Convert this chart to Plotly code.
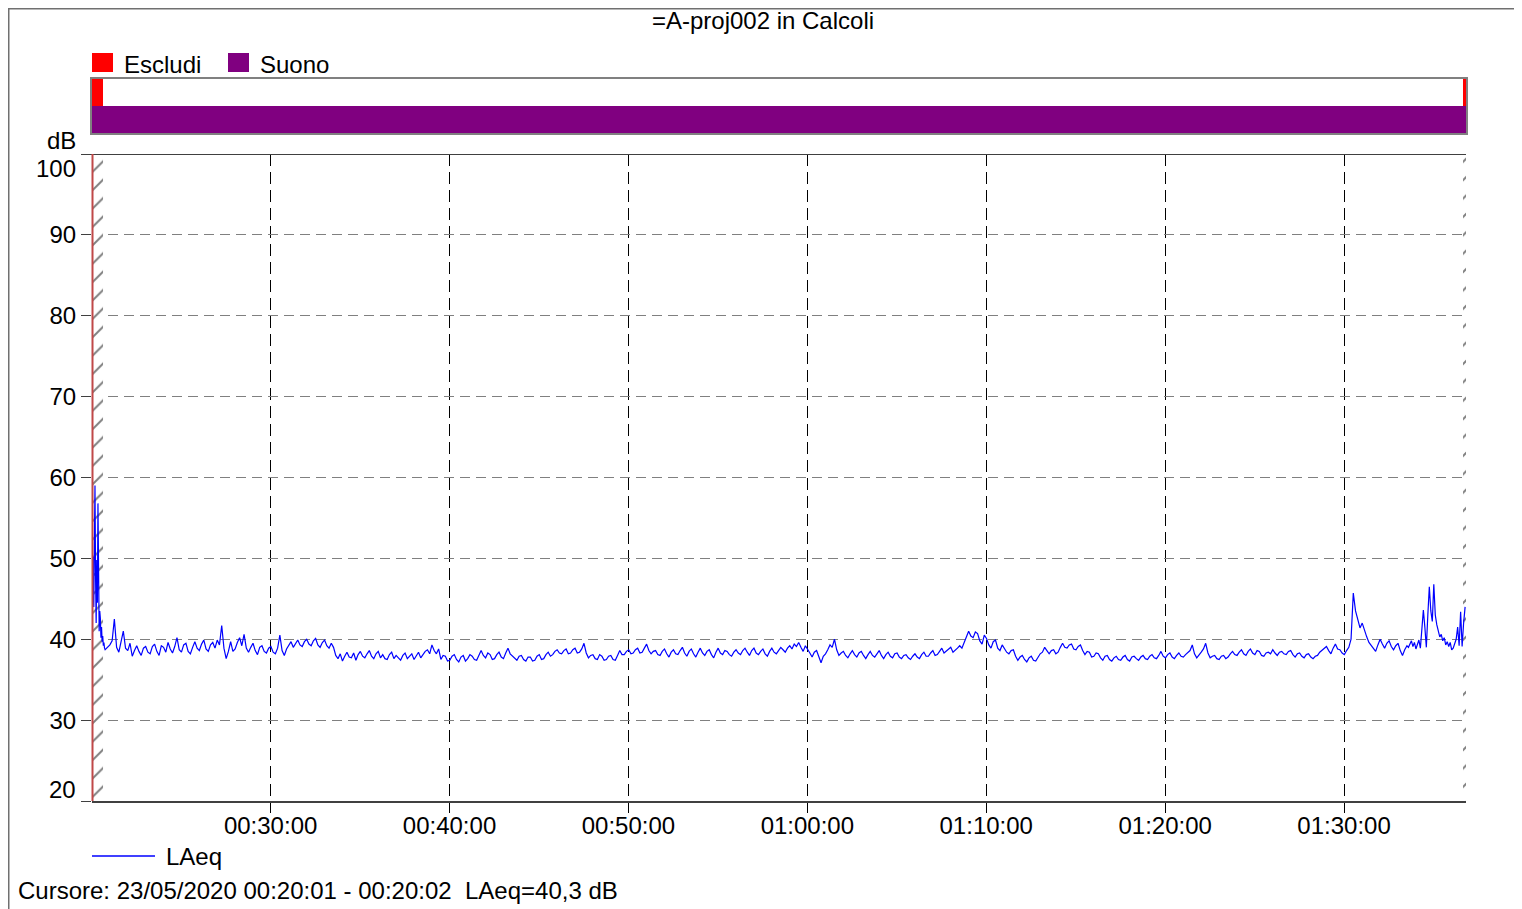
import pandas as pd
import plotly.graph_objects as go

# ---------------- data ----------------
START = "2020-05-23 00:20:01"
TOTAL_S = 4608

head_step_s = 2
head_laeq = [40.3, 45.5, 50.2, 44.0, 52.5, 59.0, 47.5, 42.0, 49.8, 44.5, 56.8, 46.0,
             41.0, 43.5, 42.6, 40.2, 41.5, 39.7, 40.4, 39.2, 39.6, 38.9, 38.7]

# samples every 15 s starting at 60 s
main_start_s = 60
main_step_s = 15
main_laeq = [
    39.3, 42.5, 38.4, 41.0, 38.6, 37.9, 39.2, 38.0, 39.1, 38.2,
    39.4, 38.0, 39.0, 39.6, 38.3, 40.2, 38.4, 39.5, 38.2, 39.7,
    38.6, 39.9, 38.5, 39.6, 39.9, 41.7, 37.6, 39.7, 38.8, 40.2,
    40.6, 38.4, 39.5, 38.1, 39.2, 38.3, 39.1, 38.2, 40.5, 38.0,
    39.3, 39.0, 39.9, 39.1, 40.0, 39.2, 40.1, 39.0, 39.9, 38.9,
    39.0, 37.6, 37.3, 38.4, 37.7, 37.4, 38.5, 37.7, 38.6, 37.6,
    38.5, 38.1, 37.5, 38.4, 38.0, 37.4, 38.3, 37.9, 37.5, 38.4,
    38.1, 38.7, 39.3, 38.2, 37.5, 37.9, 37.4, 38.1, 37.2, 38.0,
    37.6, 37.9, 37.4, 38.6, 37.7, 38.1, 37.6, 38.4, 37.6, 38.9,
    37.9, 37.4, 38.0, 37.3, 37.8, 37.4, 38.1, 37.6, 38.4, 38.1,
    38.7, 38.2, 38.8, 38.3, 38.9, 38.4, 39.5, 37.7, 38.1, 37.5,
    37.9, 37.5, 38.0, 37.4, 38.6, 38.1, 38.7, 38.3, 38.9, 38.4,
    39.4, 38.2, 38.6, 38.0, 38.8, 37.8, 38.7, 38.1, 39.0, 37.9,
    38.8, 37.8, 38.9, 38.0, 38.7, 37.7, 38.9, 38.1, 38.5, 37.9,
    38.7, 38.1, 38.9, 38.0, 38.9, 38.1, 38.8, 37.9, 38.9, 38.2,
    39.0, 38.4, 39.2, 39.4, 39.6, 38.5, 38.8, 37.8, 38.6, 37.1,
    38.2, 39.3, 40.0, 38.0, 38.5, 37.7, 38.6, 37.8, 38.5, 37.6,
    38.5, 37.8, 38.6, 37.6, 38.4, 37.7, 38.3, 37.6, 38.1, 37.5,
    38.2, 37.6, 38.4, 37.9, 38.6, 38.1, 38.9, 38.5, 39.0, 38.6,
    39.2, 39.6, 41.0, 40.2, 40.7, 39.4, 40.1, 38.9, 39.9, 38.6,
    38.9, 38.2, 38.7, 37.4, 38.0, 37.2, 37.9, 37.3, 38.2, 39.0,
    38.2, 38.7, 38.4, 39.5, 38.9, 39.4, 38.7, 39.3, 38.1, 38.4,
    37.9, 38.2, 37.4, 38.0, 37.3, 37.9, 37.4, 38.0, 37.3, 37.9,
    37.4, 38.0, 37.5, 38.1, 37.6, 38.5, 37.7, 38.3, 37.6, 38.3,
    37.8, 38.3, 39.3, 37.7, 38.4, 39.5, 37.7, 38.0, 37.5, 38.0,
    37.8, 38.5, 38.0, 38.7, 38.0, 38.8, 38.1, 38.5, 37.9, 38.4,
    38.7, 38.0, 38.5, 38.1, 38.6, 37.8, 38.3, 37.7, 38.2, 37.6,
    38.0, 38.6, 39.1, 38.2, 39.4, 38.7, 38.1, 39.0, 45.7, 42.6,
    42.0, 40.3, 39.2, 38.5, 40.0, 38.9, 39.8, 38.7, 39.5, 38.0,
]

# in-between samples, every 15 s starting at 67.5 s
mid_start_s = 67.5
mid_step_s = 15
mid_laeq = [
    39.8, 39.0, 39.6, 38.9, 39.5, 38.6, 38.5, 38.9, 38.4, 39.1,
    38.5, 39.2, 38.4, 38.8, 39.1, 38.7, 39.3, 38.5, 39.0, 38.9,
    39.4, 38.8, 39.3, 38.9, 39.3, 38.9, 38.5, 38.5, 39.6, 39.2,
    38.9, 39.0, 38.6, 39.0, 38.5, 38.9, 38.4, 38.9, 38.6, 38.8,
    39.7, 39.5, 39.3, 39.7, 39.4, 39.8, 39.3, 39.6, 39.2, 39.5,
    38.0, 38.2, 37.9, 37.8, 38.3, 38.1, 37.9, 38.2, 37.9, 38.2,
    37.7, 37.6, 38.1, 37.6, 37.7, 38.0, 37.6, 38.2, 38.0, 37.7,
    38.5, 38.2, 38.6, 38.8, 38.0, 37.3, 37.9, 37.5, 37.8, 37.3,
    38.1, 37.5, 38.0, 38.0, 38.3, 37.5, 38.1, 37.8, 38.3, 38.2,
    37.6, 37.9, 37.5, 37.8, 37.3, 37.9, 37.5, 38.1, 37.9, 38.5,
    38.3, 38.6, 38.2, 38.7, 38.3, 38.8, 38.3, 38.0, 37.6, 38.1,
    37.4, 37.9, 37.5, 38.0, 38.1, 38.5, 38.2, 38.7, 38.3, 38.9,
    38.6, 38.5, 38.1, 38.5, 38.2, 38.4, 38.2, 38.6, 38.3, 38.5,
    38.2, 38.4, 38.3, 38.5, 38.1, 38.4, 38.3, 38.6, 38.1, 38.4,
    38.3, 38.6, 38.4, 38.6, 38.3, 38.5, 38.2, 38.5, 38.4, 38.6,
    38.7, 38.9, 38.8, 39.1, 39.0, 39.2, 38.3, 38.4, 37.9, 37.9,
    38.7, 39.0, 38.7, 38.3, 38.0, 38.2, 38.1, 38.3, 38.0, 38.1,
    38.0, 38.2, 38.0, 38.1, 37.9, 38.2, 37.8, 38.0, 37.7, 37.9,
    37.8, 38.1, 37.9, 38.3, 38.0, 38.5, 38.3, 38.8, 38.4, 38.9,
    38.9, 40.3, 40.4, 40.9, 39.8, 40.5, 39.3, 39.7, 38.9, 39.3,
    38.4, 38.6, 37.9, 37.8, 37.5, 37.7, 37.4, 37.8, 38.4, 38.6,
    38.6, 38.2, 39.0, 39.0, 39.3, 38.8, 39.1, 38.6, 38.5, 37.8,
    38.3, 37.7, 37.9, 37.5, 37.7, 37.5, 37.8, 37.5, 37.8, 37.6,
    37.8, 37.6, 37.9, 37.7, 38.0, 37.9, 38.1, 37.8, 38.0, 37.9,
    38.1, 38.6, 38.2, 38.0, 38.8, 38.3, 37.9, 37.6, 37.9, 37.6,
    38.2, 38.1, 38.4, 38.2, 38.5, 38.3, 38.6, 38.0, 38.3, 38.2,
    38.3, 38.4, 38.2, 38.5, 38.1, 38.2, 37.9, 38.1, 37.8, 37.9,
    38.4, 38.8, 38.6, 38.9, 38.8, 38.3, 38.6, 40.0, 43.5, 41.4,
    41.0, 39.6, 38.8, 39.3, 39.4, 39.5, 39.1, 39.2, 38.6, 38.7,
]

tail_start_s = 4410
tail_step_s = 5
tail_laeq = [39.2, 39.0, 39.5, 39.8, 39.1, 39.6, 38.8, 39.4, 39.9, 38.9,
             42.0, 43.6, 41.5, 39.0, 43.0, 46.5, 43.5, 42.2, 46.8, 43.0,
             41.8, 40.9, 40.3, 40.6, 39.8, 40.2, 39.3, 39.7, 39.1, 39.6,
             38.7, 38.9, 39.5, 40.0, 41.5, 39.2, 43.4, 39.1, 42.0, 44.0]

escludi_intervals_s = [(0, 37), (4598, 4608)]
suono_intervals_s = [(0, 4608)]

y_tick_vals = [20, 30, 40, 50, 60, 70, 80, 90, 100]
y_tick_text = ["", "30", "40", "50", "60", "70", "80", "90", ""]
x_tick_times = ["2020-05-23 00:30:00", "2020-05-23 00:40:00", "2020-05-23 00:50:00",
                "2020-05-23 01:00:00", "2020-05-23 01:10:00", "2020-05-23 01:20:00",
                "2020-05-23 01:30:00"]
x_tick_text = ["00:30:00", "00:40:00", "00:50:00", "01:00:00", "01:10:00", "01:20:00", "01:30:00"]

TITLE = "=A-proj002 in Calcoli"
CURSOR_TEXT = "Cursore: 23/05/2020 00:20:01 - 00:20:02  LAeq=40,3 dB"

# ---------------- build series ----------------
t0 = pd.Timestamp(START)


def ts(sec):
    return (t0 + pd.Timedelta(seconds=sec)).strftime("%Y-%m-%d %H:%M:%S.%f")[:-3]


samples = ([(head_step_s * i, v) for i, v in enumerate(head_laeq)]
           + [(main_start_s + main_step_s * i, v) for i, v in enumerate(main_laeq)]
           + [(mid_start_s + mid_step_s * i, v) for i, v in enumerate(mid_laeq)]
           + [(tail_start_s + tail_step_s * i, v) for i, v in enumerate(tail_laeq)])
samples.sort(key=lambda p: p[0])
times = [ts(s) for s, _ in samples]
values = [v for _, v in samples]

# ---------------- layout geometry (pixels, page coordinates) ----------------
OFF = 8  # page body margin
W, H = 1522 - OFF, 909 - OFF
L, R, T, B = 92, 1466, 79, 801
PW, PH = R - L, B - T


def px(x):
    return (x - L) / PW


def py(y):
    return (B - y) / PH


FONT = "Liberation Sans, Arial, sans-serif"
FS = 24

fig = go.Figure()

# hatched excluded regions in main plot
for a, b in escludi_intervals_s:
    fig.add_trace(go.Bar(
        x=[ts((a + b) / 2)], y=[80], base=[20], width=[(b - a) * 1000],
        marker=dict(color="white", line=dict(width=0),
                    pattern=dict(shape="/", fgcolor="black", bgcolor="white",
                                 size=13, solidity=0.15)),
        xaxis="x", yaxis="y", showlegend=False, hoverinfo="skip"))

fig.add_trace(go.Scatter(x=times, y=values, mode="lines", name="LAeq",
                         line=dict(color="#0000FF", width=1.2),
                         xaxis="x", yaxis="y", showlegend=False))

# top band: Escludi (row 1) and Suono (row 0)
for a, b in escludi_intervals_s:
    fig.add_trace(go.Bar(orientation="h", y=[1], x=[(b - a) * 1000], base=[ts(a)],
                         width=[1.0], marker=dict(color="#FF0000", line=dict(width=0)),
                         xaxis="x2", yaxis="y2", showlegend=False, name="Escludi"))
for a, b in suono_intervals_s:
    fig.add_trace(go.Bar(orientation="h", y=[0], x=[(b - a) * 1000], base=[ts(a)],
                         width=[1.0], marker=dict(color="#800080", line=dict(width=0)),
                         xaxis="x2", yaxis="y2", showlegend=False, name="Suono"))

y_main_top = py(154)
y_band_bot = py(133)

fig.update_layout(
    width=W, height=H,
    margin=dict(l=L - OFF, r=(W + OFF) - R, t=T - OFF, b=(H + OFF) - B, pad=0),
    paper_bgcolor="white", plot_bgcolor="white",
    barmode="overlay",
    font=dict(family=FONT, size=FS, color="black"),
    title=dict(text=TITLE, x=(763 - OFF) / W, xref="container", xanchor="center",
               y=1 - (21 - OFF) / H, yref="container", yanchor="middle",
               font=dict(family=FONT, size=FS, color="black")),
    xaxis=dict(domain=[0, 1], anchor="y", type="date",
               range=[ts(0), ts(TOTAL_S)],
               tickvals=x_tick_times, ticktext=x_tick_text,
               ticks="outside", ticklen=10, tickwidth=1, tickcolor="black",
               ticklabelstandoff=-8,
               showgrid=True, gridcolor="black", gridwidth=1, griddash="12px,6px",
               showline=True, linecolor="#404040", linewidth=2,
               zeroline=False, tickfont=dict(size=FS)),
    yaxis=dict(domain=[0, y_main_top], anchor="x", range=[20, 100],
               tickvals=y_tick_vals, ticktext=y_tick_text,
               ticks="outside", ticklen=10, tickwidth=1, tickcolor="#404040",
               showgrid=True, gridcolor="#808080", gridwidth=1, griddash="10px,6px",
               showline=False, zeroline=False, tickfont=dict(size=FS)),
    xaxis2=dict(domain=[0, 1], anchor="y2", matches="x", type="date",
                showticklabels=False, ticks="", showgrid=False, zeroline=False,
                showline=True, mirror=True, linecolor="#808080", linewidth=1.5),
    yaxis2=dict(domain=[y_band_bot, 1], anchor="x2", range=[-0.5, 1.5],
                showticklabels=False, ticks="", showgrid=False, zeroline=False,
                showline=True, mirror=True, linecolor="#808080", linewidth=1.5),
    hovermode=False,
)

shapes = [
    # outer frame
    dict(type="rect", xref="paper", yref="paper", x0=px(8.75), x1=px(1517),
         y0=py(925), y1=py(8.75), line=dict(color="#707070", width=1.5)),
    # top border of main plot (extends as 100 tick)
    dict(type="line", xref="paper", yref="y", x0=px(82), x1=1, y0=100, y1=100,
         line=dict(color="#404040", width=2)),
    # cursor line
    dict(type="line", xref="paper", yref="y", x0=px(92.5), x1=px(92.5), y0=20, y1=100,
         line=dict(color="#C04848", width=2)),
    # legend squares
    dict(type="rect", xref="paper", yref="paper", x0=px(92), x1=px(113),
         y0=py(72), y1=py(53), fillcolor="#FF0000", line=dict(width=0)),
    dict(type="rect", xref="paper", yref="paper", x0=px(228), x1=px(249),
         y0=py(72), y1=py(53), fillcolor="#800080", line=dict(width=0)),
    # LAeq legend line
    dict(type="line", xref="paper", yref="paper", x0=px(92), x1=px(155),
         y0=py(856), y1=py(856), line=dict(color="#0000FF", width=1.5)),
]
fig.update_layout(shapes=shapes)


def ann(text, x, y, xanchor="left"):
    return dict(text=text, xref="paper", yref="paper", x=px(x), y=py(y),
                xanchor=xanchor, yanchor="middle", showarrow=False,
                font=dict(family=FONT, size=FS, color="black"))


fig.update_layout(annotations=[
    ann("Escludi", 122, 65),
    ann("Suono", 258, 65),
    ann("dB", 78, 141, "right"),
    ann("100", 78, 168, "right"),
    ann("20", 78, 789, "right"),
    ann("LAeq", 164, 856),
    ann(CURSOR_TEXT, 16, 890),
])

fig.write_html("out.html")
